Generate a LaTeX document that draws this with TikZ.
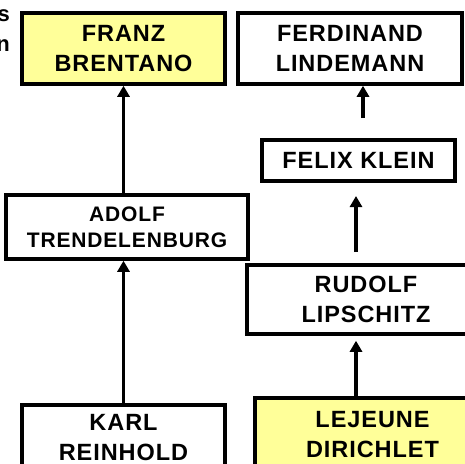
\documentclass[tikz,border=0pt]{standalone}
\usepackage{fontspec}
\setmainfont{Liberation Sans}
\newfontfamily\boxfont[LetterSpace=4]{Liberation Sans}
\usetikzlibrary{arrows.meta}
\definecolor{paleyellow}{HTML}{FFFF99}
\begin{document}
\begin{tikzpicture}[x=1pt,y=-1pt,
  namebox/.style={draw=black, line width=3.5pt, fill=white, inner sep=0pt,
    align=center, font=\boxfont\fontsize{23.5}{30}\selectfont\bfseries},
  hilite/.style={namebox, fill=paleyellow},
  arr/.style={line width=3.5pt, -{Triangle[width=12pt,length=11pt]}},
  cut/.style={font=\fontsize{22}{30}\selectfont\bfseries, inner sep=0pt}]
\useasboundingbox (0,0) rectangle (465,463);
\begin{scope}
\clip (0,0) rectangle (465,463);
% trailing letters of a neighbouring label
\node[cut, anchor=base east] (s1) at (10,21) {s};
\node[cut, anchor=base east] (s2) at (10,51) {n};
% boxes
\node[hilite, minimum width=203pt, minimum height=71pt] (franz) at (123.5,48.5) {FRANZ\\BRENTANO};
\node[namebox, minimum width=224pt, minimum height=71pt] (ferd) at (350,48.5) {FERDINAND\\LINDEMANN};
\node[namebox, minimum width=193pt, minimum height=41pt] (felix) at (358.5,160.5) {FELIX KLEIN};
\node[namebox, minimum width=242pt, minimum height=64pt,
      font=\boxfont\fontsize{21}{26}\selectfont\bfseries] (adolf) at (127,227) {ADOLF\\TRENDELENBURG};
\node[namebox, minimum width=238pt, minimum height=69pt] (rudolf) at (366,299.5) {RUDOLF\\LIPSCHITZ};
\node[namebox, minimum width=203pt, minimum height=65pt] (karl) at (123.5,437.5) {KARL\\REINHOLD};
\node[hilite, minimum width=235pt, minimum height=73pt] (lej) at (372.5,434.5) {LEJEUNE\\DIRICHLET};
% connectors
\draw[arr] (franz.south |- adolf.north) -- (franz.south);
\draw[arr] (karl.north) -- (karl.north |- adolf.south);
\coordinate (kf) at (363,118);
\draw[arr] (kf) -- (kf |- ferd.south);
\coordinate (rk) at (356,252);
\coordinate (rkt) at (356,196);
\draw[arr] (rk) -- (rkt);
\coordinate (lr) at (356,0);
\draw[arr, shorten >=5pt] (lr |- lej.north) -- (lr |- rudolf.south);
\end{scope}
\end{tikzpicture}
\end{document}
